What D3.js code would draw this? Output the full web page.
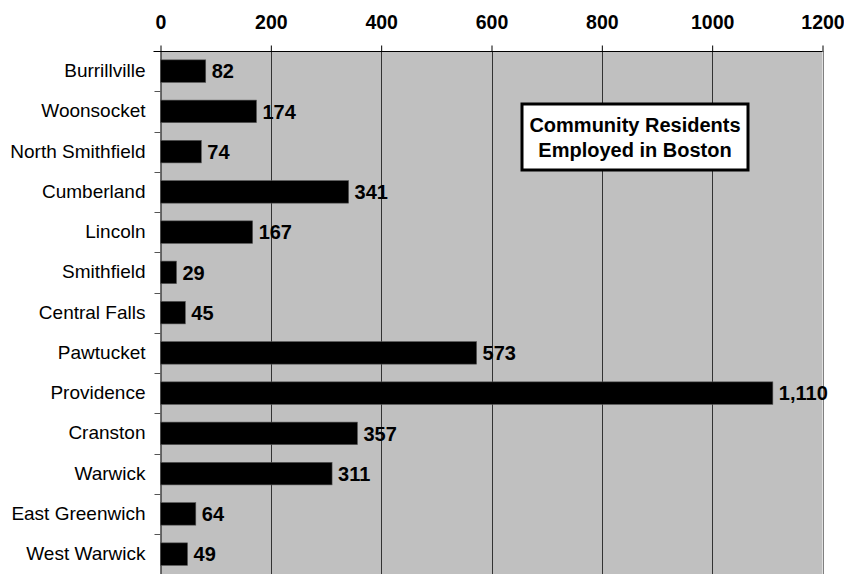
<!DOCTYPE html>
<html>
<head>
<meta charset="utf-8">
<script src="https://cdn.jsdelivr.net/npm/d3@7"></script>
<style>
  body { margin: 0; background: #fff; }
  text { font-family: Arial, "Liberation Sans", sans-serif; }
</style>
</head>
<body>
<script>
// Community residents employed in Boston, by town

var towns = ["Burrillville", "Woonsocket", "North Smithfield", "Cumberland", "Lincoln",
             "Smithfield", "Central Falls", "Pawtucket", "Providence", "Cranston",
             "Warwick", "East Greenwich", "West Warwick"];
var residents = [82, 174, 74, 341, 167, 29, 45, 573, 1110, 357, 311, 64, 49];
var xTicks = [0, 200, 400, 600, 800, 1000, 1200];
var titleLines = ["Community Residents", "Employed in Boston"];

var width = 844,
    height = 574;

var margin = {top: 51, left: 160.5, right: 21.5};
var plotBottom = margin.top + towns.length * 40.25;

var svg = d3.select("body")
            .append("svg")
            .attr("width", width)
            .attr("height", height);

var x = d3.scaleLinear()
          .domain([0, 1200])
          .range([margin.left, width - margin.right]);

var y = d3.scaleBand()
          .domain(towns)
          .range([margin.top, plotBottom])
          .paddingInner(0.44)
          .paddingOuter(0.22);

// grey plot area
svg.append("rect")
   .attr("x", x(0))
   .attr("y", margin.top)
   .attr("width", x(1200) - x(0))
   .attr("height", plotBottom - margin.top)
   .attr("fill", "#c0c0c0");

// vertical gridlines
svg.selectAll("line.grid")
   .data(xTicks.slice(1))
   .enter()
   .append("line")
   .attr("class", "grid")
   .attr("x1", d => Math.round(x(d)) + 0.5)
   .attr("x2", d => Math.round(x(d)) + 0.5)
   .attr("y1", margin.top)
   .attr("y2", plotBottom)
   .attr("stroke", d => d === 1200 ? "#808080" : "#333")
   .attr("stroke-width", 1);

// top axis
var xAxis = svg.append("g")
   .attr("transform", "translate(0," + (margin.top + 0.5) + ")")
   .call(d3.axisTop(x).tickValues(xTicks).tickSize(6).tickSizeOuter(0).tickFormat(d3.format("d")));
xAxis.select(".domain").attr("stroke", "#000").attr("d", "M" + (x(0) - 7) + ",0H" + x(1200));
xAxis.selectAll(".tick line").attr("stroke", "#000");
xAxis.selectAll(".tick text")
     .attr("y", -23)
     .attr("font-size", "19.5px")
     .attr("font-weight", "bold")
     .attr("fill", "#000");

// left axis
var yAxis = svg.append("g")
   .attr("transform", "translate(" + x(0) + ",0)")
   .call(d3.axisLeft(y).tickSize(0).tickPadding(15));
yAxis.select(".domain").attr("stroke", "#000");
yAxis.selectAll(".tick text")
     .attr("font-size", "19px")
     .attr("fill", "#000");

// tick marks between categories
svg.selectAll("line.ytick")
   .data(towns.slice(1))
   .enter()
   .append("line")
   .attr("class", "ytick")
   .attr("x1", x(0) - 6)
   .attr("x2", x(0))
   .attr("y1", d => Math.round(y(d) - y.step() * y.paddingInner() / 2) + 0.5)
   .attr("y2", d => Math.round(y(d) - y.step() * y.paddingInner() / 2) + 0.5)
   .attr("stroke", "#555");

// bars
svg.selectAll("rect.bar")
   .data(residents)
   .enter()
   .append("rect")
   .attr("class", "bar")
   .attr("x", x(0))
   .attr("y", (d, i) => y(towns[i]))
   .attr("width", d => x(d) - x(0))
   .attr("height", y.bandwidth())
   .attr("fill", "#000")
   .attr("stroke", "#555")
   .attr("stroke-width", 0.6);

// value labels
svg.selectAll("text.val")
   .data(residents)
   .enter()
   .append("text")
   .attr("class", "val")
   .attr("x", d => x(d) + 6)
   .attr("y", (d, i) => y(towns[i]) + y.bandwidth() / 2)
   .attr("dy", "0.36em")
   .attr("font-size", "20px")
   .attr("font-weight", "bold")
   .text(d => d3.format(",")(d));

// title box
var box = svg.append("g");
box.append("rect")
   .attr("x", 522)
   .attr("y", 104)
   .attr("width", 226)
   .attr("height", 66)
   .attr("fill", "#fff")
   .attr("stroke", "#000")
   .attr("stroke-width", 3);
box.selectAll("text")
   .data(titleLines)
   .enter()
   .append("text")
   .attr("x", 635)
   .attr("y", (d, i) => 132 + i * 25)
   .attr("text-anchor", "middle")
   .attr("font-size", "20px")
   .attr("font-weight", "bold")
   .text(d => d);
</script>
</body>
</html>
